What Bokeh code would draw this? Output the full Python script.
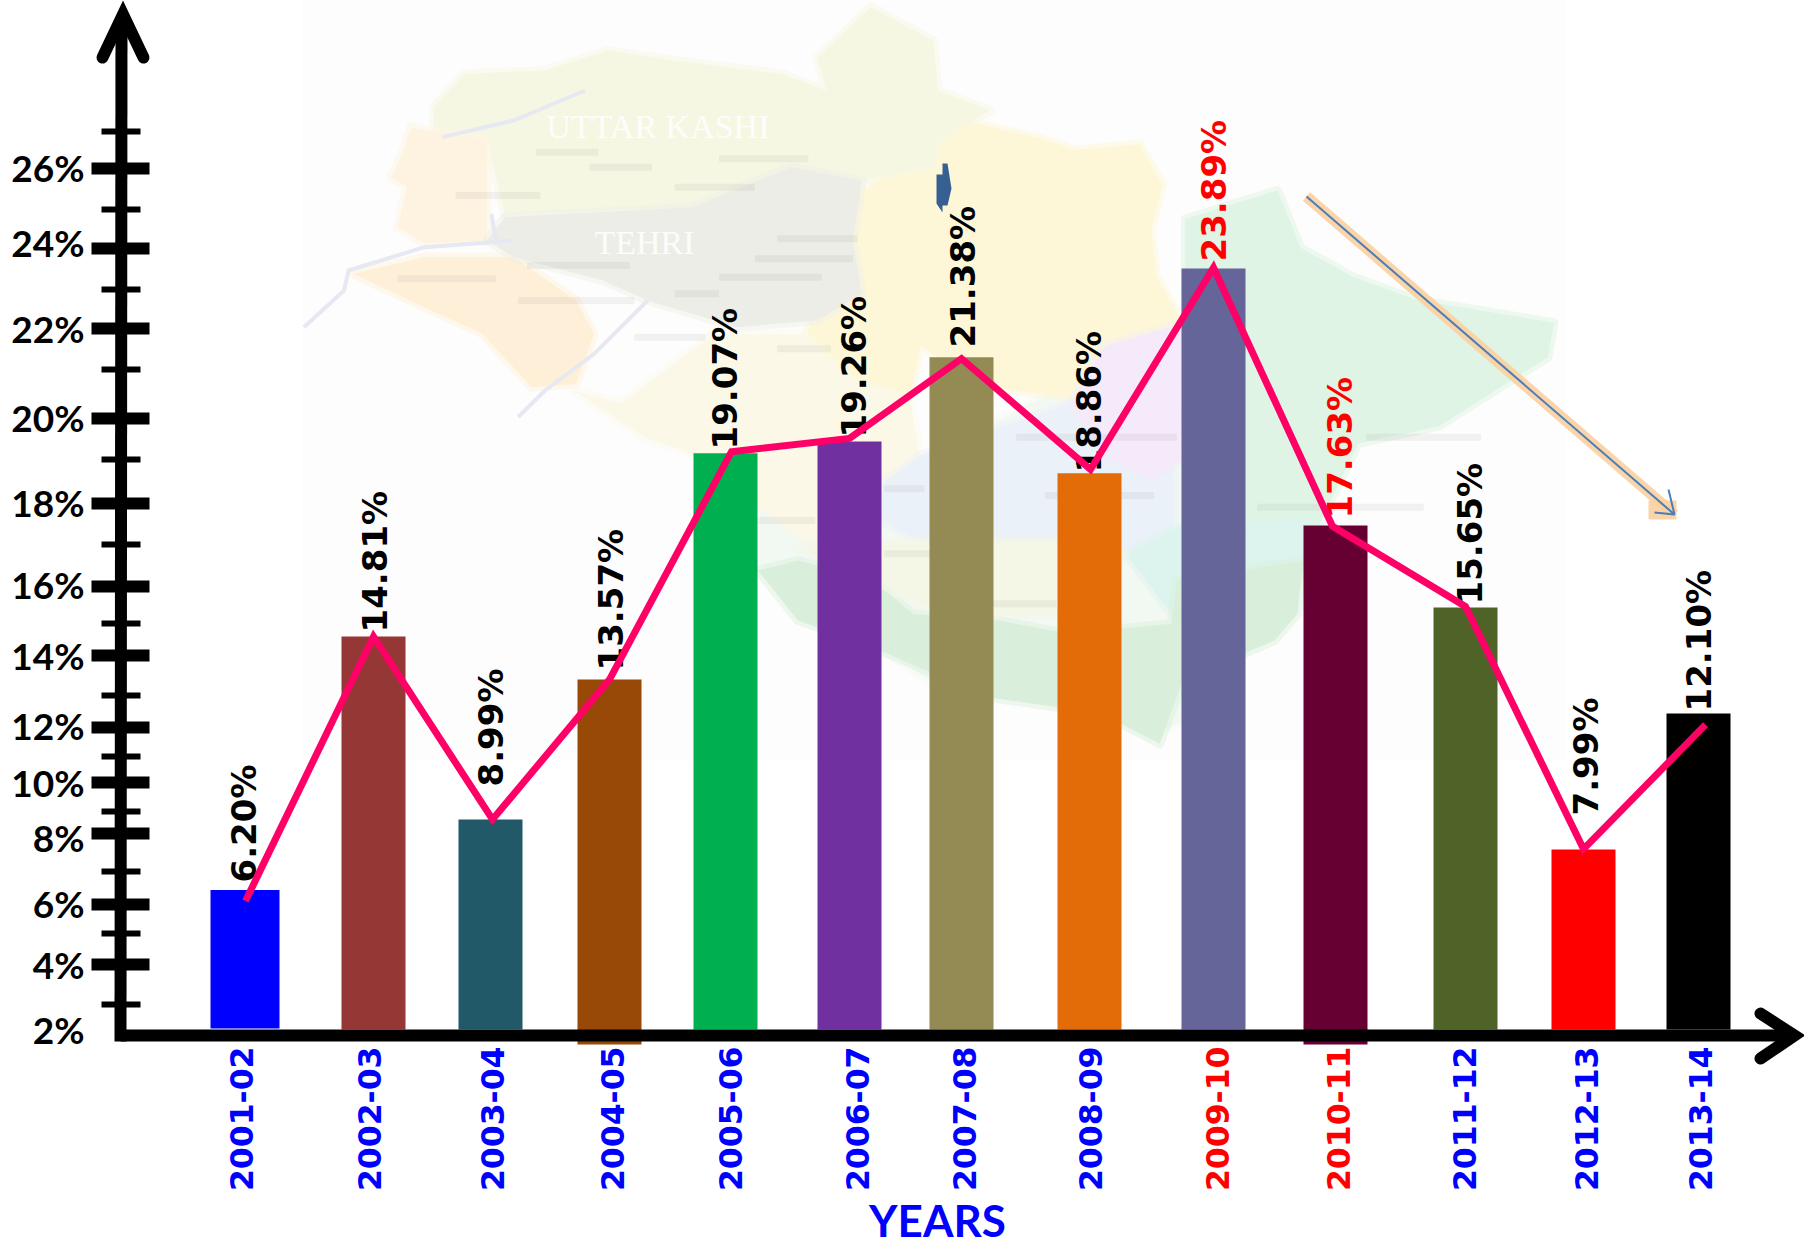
import math
import numpy as np
from bokeh.plotting import figure
from bokeh.models import Range1d, LinearAxis, FixedTicker, ColumnDataSource
from bokeh.core.properties import value
from bokeh.embed import file_html
from bokeh.resources import INLINE

# ---------- data ----------
years = ["2001-02","2002-03","2003-04","2004-05","2005-06","2006-07","2007-08",
         "2008-09","2009-10","2010-11","2011-12","2012-13","2013-14"]
growth_labels = [6.20,14.81,8.99,13.57,19.07,19.26,21.38,18.86,23.89,17.63,15.65,7.99,12.10]
bar_values  = [6.41,14.55,8.55,13.33,19.18,19.46,21.36,18.71,23.50,17.47,15.39,7.55,12.39]
line_values = [6.10,14.55,8.55,13.33,19.22,19.53,21.33,18.80,23.52,17.45,15.42,7.56,12.08]
bar_colors = ["#0000FF","#953735","#215968","#984807","#00B050","#7030A0","#948A54",
              "#E36C09","#65659A","#660033","#4F6228","#FF0000","#000000"]
label_colors = ["black"]*8 + ["#FF0000","#FF0000"] + ["black"]*3
year_colors = ["#0000FF"]*8 + ["#FF0000","#FF0000"] + ["#0000FF"]*3
axis_values = [2,4,6,8,10,12,14,16,18,20,22,24,26]

# ---------- layout (reference pixels) ----------
W, H = 1804, 1244
axis_px = [1031,964,904,833,782,727,655,586,503,418,328,248,168]
axis_label_px = [1029,964,903,837,782,725,655,584,502,417,328,242,167]
minor_px = [131,209,289,369,459,544,623,695,756,811,871,933,1004]
bar_left  = [210,341,458,577,693,817,929,1057,1181,1303,1433,1551,1666]
bar_right = [279,405,522,641,757,881,993,1121,1245,1367,1497,1615,1730]
bar_bottom = [1028,1029,1029,1044,1029,1029,1029,1029,1029,1044,1029,1029,1029]
line_x = [245,373,492,609,731,849,961,1090,1213,1332,1465,1583,1705]
label_x = [243,374,490,610,724,853,962,1088,1213,1339,1469,1585,1698]
label_bottom = [882,632,786,670,449,437,347,472,261,518,604,815,711]
year_x = [241,369,492,612,730,857,964,1090,1217,1338,1464,1586,1700]

def to_px(v):
    return np.interp(v, axis_values, axis_px)

p = figure(width=W, height=H, output_backend="svg", toolbar_location=None,
           x_range=Range1d(0, W), y_range=Range1d(H, 0),
           min_border=0, min_border_left=0, min_border_right=0, min_border_top=0, min_border_bottom=0,
           x_axis_location=None, y_axis_location=None,
           background_fill_color="white", border_fill_color="white",
           outline_line_color=None)
p.grid.visible = False

# ---------- faded map backdrop ----------
def z5(pts):
    return [290+a/2.24 for a, b in pts], [b/3 for a, b in pts]
def z6(pts):
    return [700+a/1.742 for a, b in pts], [380+b/3 for a, b in pts]
def d(pts):
    return [a*1.1505 for a, b in pts], [b*1.1505 for a, b in pts]

p.quad(left=[302], right=[1565], top=[0], bottom=[760], fill_color="#FDFDFD", line_color=None)
regions = [
 (d([(660,440),(800,400),(1030,280),(1030,190),(1110,165),(1130,215),(1175,240),(1230,260),(1350,280),(1345,310),(1250,370),(1180,385),(1120,510),(1040,620),(1000,640),(900,590),(820,600),(760,560),(660,490)]), "#F2F8F2"),
 (d([(840,105),(905,120),(935,130),(990,125),(1010,160),(1000,200),(1005,240),(1030,285),(960,300),(930,345),(850,335),(800,300),(790,345),(740,330),(700,290),(740,200),(700,170),(750,165)]), "#FDF7D8"),
 (z5([(320,320),(390,220),(570,210),(710,150),(860,180),(1100,220),(1200,270),(1180,170),(1300,20),(1440,120),(1450,270),(1568,330),(1450,420),(1440,500),(1280,540),(1120,500),(900,620),(480,640),(440,420),(320,400)]), "#F6F7E3"),
 (z5([(270,380),(340,400),(440,420),(440,720),(300,730),(240,680),(260,560),(225,530),(250,460)]), "#FEF3E0"),
 (z5([(140,820),(300,770),(500,770),(640,900),(680,1000),(640,1150),(540,1160),(430,1000),(300,920)]), "#FEEFD8"),
 (z5([(480,650),(900,620),(1120,500),(1280,540),(1260,720),(1280,880),(1180,960),(1000,980),(800,900),(700,840),(500,770),(440,720)]), "#EDEDE7"),
 (d([(500,340),(540,350),(620,290),(700,290),(740,330),(790,345),(800,400),(810,430),(700,470),(660,440),(620,400),(560,380)]), "#FBF8E8"),
 (d([(800,395),(930,350),(1020,400),(1020,470),(920,500),(800,470),(740,440)]), "#EAF1F8"),
 (d([(960,300),(1030,280),(1027,400),(1000,415),(960,395),(930,350)]), "#F5EAF9"),
 (d([(1030,190),(1110,165),(1130,215),(1175,240),(1230,260),(1350,280),(1345,310),(1250,370),(1180,385),(1120,510),(1030,530)]), "#DFF4E4"),
 (z6([(740,520),(830,440),(1060,420),(1060,520),(1000,760),(830,720)]), "#DDF4EE"),
 (z6([(100,570),(170,540),(300,600),(370,700),(520,720),(640,760),(820,730),(830,600),(1050,540),(1040,700),(1000,780),(840,900),(800,1090),(700,1000),(580,970),(500,950),(380,860),(300,800),(170,720)]), "#D9EFDC"),
 (z6([(170,500),(400,480),(620,480),(740,520),(640,700),(420,700),(300,600)]), "#F4F7E6"),
]
region_colors = [r[1] for r in regions]
p.patches([r[0][0] for r in regions], [r[0][1] for r in regions],
          fill_color=region_colors, line_color=region_colors, line_width=9, line_alpha=0.45, line_join="round")
rivers = [z5([(30,980),(120,870),(130,810),(300,740),(500,720)]),
          z5([(340,410),(500,360),(660,270)]), z5([(450,640),(460,720)]),
          z5([(510,1250),(570,1170),(680,1060),(800,900)])]
p.multi_line([r[0] for r in rivers], [r[1] for r in rivers], line_color="#E6E8F2", line_width=4)
smudges = [z5([(550,455),(690,455)]), z5([(670,500),(810,500)]), z5([(860,560),(1040,560)]),
           z5([(960,475),(1160,475)]), z5([(370,585),(560,585)]), z5([(530,795),(760,795)]),
           z5([(240,835),(460,835)]), z5([(510,900),(770,900)]), z5([(860,880),(960,880)]),
           z5([(960,830),(1190,830)]), z5([(1040,775),(1260,775)]), z5([(770,1010),(930,1010)]),
           z5([(1090,1045),(1210,1045)]), z5([(1090,715),(1270,715)]),
           z6([(320,325),(390,325)]), z6([(1160,170),(1360,170)]), z6([(970,380),(1260,380)]),
           z6([(600,345),(790,345)]), z6([(550,170),(830,170)]), z6([(100,420),(200,420)]),
           z6([(510,670),(620,670)]), z6([(320,520),(410,520)])]
p.multi_line([s[0] for s in smudges], [s[1] for s in smudges], line_color="#8A8A88", line_alpha=0.10, line_width=7)
p.text(x=[546, 594], y=[126, 242], text=["UTTAR KASHI", "TEHRI"], text_color="white", text_alpha=0.85,
       text_font=value("Liberation Serif"), text_font_size="34px", text_align="left", text_baseline="middle")

# ---------- bars, labels, line ----------
src = ColumnDataSource(dict(left=bar_left, right=bar_right, top=to_px(bar_values), bottom=bar_bottom,
                            color=bar_colors))
p.quad(left="left", right="right", top="top", bottom="bottom", fill_color="color", line_color=None, source=src)

lab = ColumnDataSource(dict(x=label_x, y=label_bottom, text=[f"{v:.2f}%" for v in growth_labels], color=label_colors))
p.text(x="x", y="y", text="text", text_color="color", angle=math.pi/2, text_align="left", text_baseline="middle",
       text_font=value("DejaVu Sans"), text_font_style="bold", text_font_size="34px", source=lab)

p.line(line_x, to_px(line_values), line_color="#FF0066", line_width=7, line_join="miter", line_cap="butt")

# ---------- hand-drawn axes ----------
p.segment([121], [20], [120], [1041], line_color="black", line_width=12)
p.segment([120], [1035], [1790], [1035], line_color="black", line_width=12)
p.segment([91]*12, axis_px[1:], [149]*12, axis_px[1:], line_color="black", line_width=12)
p.segment([101]*13, minor_px, [140]*13, minor_px, line_color="black", line_width=6)
p.line([102, 122.5, 143], [57, 14, 57], line_color="black", line_width=12, line_cap="round", line_join="miter")
p.line([1760, 1794, 1760], [1013, 1035, 1058], line_color="black", line_width=12, line_cap="round", line_join="miter")

yax = LinearAxis(ticker=FixedTicker(ticks=axis_label_px), fixed_location=120)
yax.major_label_overrides = {t: f"{v}%" for t, v in zip(axis_label_px, axis_values)}
yax.axis_line_color = None
yax.major_tick_line_color = None
yax.minor_tick_line_color = None
yax.major_label_standoff = 30
yax.major_label_text_color = "black"
yax.major_label_text_font = "Lato"
yax.major_label_text_font_style = "bold"
yax.major_label_text_font_size = "37px"
p.add_layout(yax, "left")

for col in ["#0000FF", "#FF0000"]:
    ticks = [x for x, c in zip(year_x, year_colors) if c == col]
    xax = LinearAxis(ticker=FixedTicker(ticks=ticks), fixed_location=1035)
    xax.major_label_overrides = {x: y for x, y, c in zip(year_x, years, year_colors) if c == col}
    xax.axis_line_color = None
    xax.major_tick_line_color = None
    xax.minor_tick_line_color = None
    xax.major_label_orientation = math.pi/2
    xax.major_label_standoff = 5
    xax.major_label_text_color = col
    xax.major_label_text_font = "DejaVu Sans"
    xax.major_label_text_font_style = "bold"
    xax.major_label_text_font_size = "31.5px"
    p.add_layout(xax, "below")

p.text(x=[937], y=[1219], text=["YEARS"], text_color="#0000FF", text_font=value("Lato"), text_font_style="bold",
       text_font_size="44px", text_align="center", text_baseline="middle")

# ---------- trend arrow and small marker ----------
p.line([1306, 1674], [196, 514], line_color="#FBD0A0", line_width=11, line_alpha=0.9)
p.quad(left=[1648], right=[1676], top=[500], bottom=[519], fill_color="#FBD0A0", line_color=None, fill_alpha=0.9)
p.line([1306, 1674], [196, 514], line_color="#4A7EBB", line_width=2)
p.line([1654, 1674, 1668], [512, 514, 489], line_color="#4A7EBB", line_width=2)
p.patch([936, 942, 942, 947, 951, 947, 942, 942, 936], [174, 174, 163, 163, 188, 205, 205, 212, 203],
        fill_color="#376092", line_color=None)

open("out.html", "w").write(file_html(p, INLINE))
